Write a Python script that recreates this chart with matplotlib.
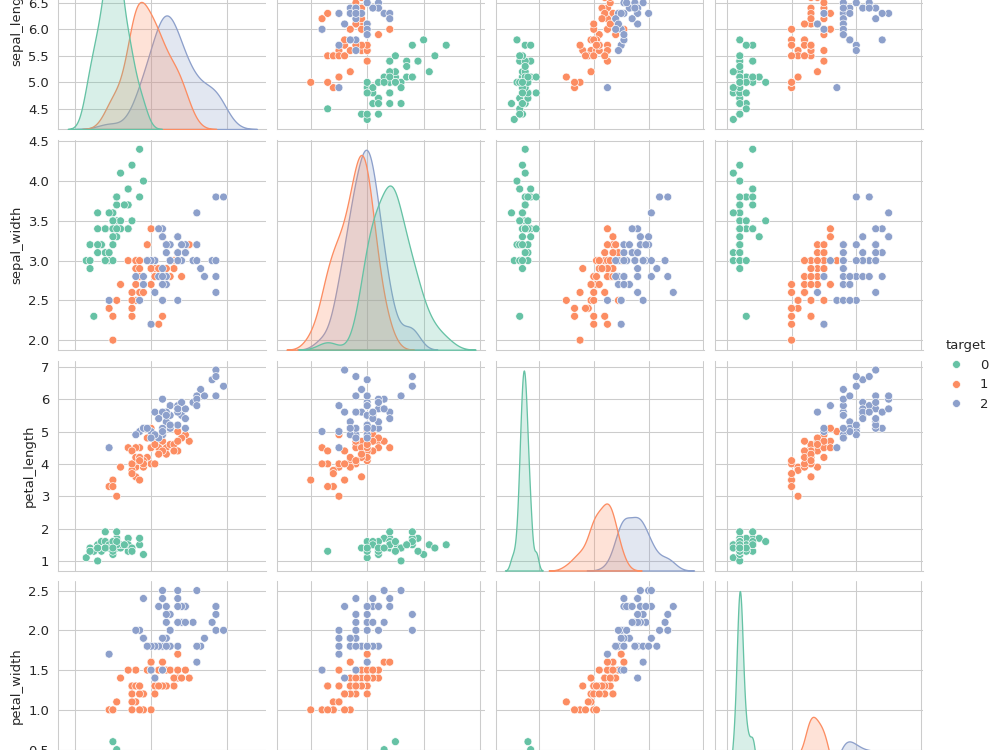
import matplotlib
matplotlib.use("Agg")
import matplotlib.pyplot as plt
from matplotlib.transforms import Bbox
import pandas as pd
import seaborn as sns

# iris measurements (sklearn ordering), target 0/1/2
sepal_length = [
    5.1, 4.9, 4.7, 4.6, 5.0, 5.4, 4.6, 5.0, 4.4, 4.9, 5.4, 4.8, 4.8, 4.3, 5.8, 5.7, 5.4, 5.1, 5.7, 5.1,
    5.4, 5.1, 4.6, 5.1, 4.8, 5.0, 5.0, 5.2, 5.2, 4.7, 4.8, 5.4, 5.2, 5.5, 4.9, 5.0, 5.5, 4.9, 4.4, 5.1,
    5.0, 4.5, 4.4, 5.0, 5.1, 4.8, 5.1, 4.6, 5.3, 5.0,
    7.0, 6.4, 6.9, 5.5, 6.5, 5.7, 6.3, 4.9, 6.6, 5.2, 5.0, 5.9, 6.0, 6.1, 5.6, 6.7, 5.6, 5.8, 6.2, 5.6,
    5.9, 6.1, 6.3, 6.1, 6.4, 6.6, 6.8, 6.7, 6.0, 5.7, 5.5, 5.5, 5.8, 6.0, 5.4, 6.0, 6.7, 6.3, 5.6, 5.5,
    5.5, 6.1, 5.8, 5.0, 5.6, 5.7, 5.7, 6.2, 5.1, 5.7,
    6.3, 5.8, 7.1, 6.3, 6.5, 7.6, 4.9, 7.3, 6.7, 7.2, 6.5, 6.4, 6.8, 5.7, 5.8, 6.4, 6.5, 7.7, 7.7, 6.0,
    6.9, 5.6, 7.7, 6.3, 6.7, 7.2, 6.2, 6.1, 6.4, 7.2, 7.4, 7.9, 6.4, 6.3, 6.1, 7.7, 6.3, 6.4, 6.0, 6.9,
    6.7, 6.9, 5.8, 6.8, 6.7, 6.7, 6.3, 6.5, 6.2, 5.9,
]
sepal_width = [
    3.5, 3.0, 3.2, 3.1, 3.6, 3.9, 3.4, 3.4, 2.9, 3.1, 3.7, 3.4, 3.0, 3.0, 4.0, 4.4, 3.9, 3.5, 3.8, 3.8,
    3.4, 3.7, 3.6, 3.3, 3.4, 3.0, 3.4, 3.5, 3.4, 3.2, 3.1, 3.4, 4.1, 4.2, 3.1, 3.2, 3.5, 3.6, 3.0, 3.4,
    3.5, 2.3, 3.2, 3.5, 3.8, 3.0, 3.8, 3.2, 3.7, 3.3,
    3.2, 3.2, 3.1, 2.3, 2.8, 2.8, 3.3, 2.4, 2.9, 2.7, 2.0, 3.0, 2.2, 2.9, 2.9, 3.1, 3.0, 2.7, 2.2, 2.5,
    3.2, 2.8, 2.5, 2.8, 2.9, 3.0, 2.8, 3.0, 2.9, 2.6, 2.4, 2.4, 2.7, 2.7, 3.0, 3.4, 3.1, 2.3, 3.0, 2.5,
    2.6, 3.0, 2.6, 2.3, 2.7, 3.0, 2.9, 2.9, 2.5, 2.8,
    3.3, 2.7, 3.0, 2.9, 3.0, 3.0, 2.5, 2.9, 2.5, 3.6, 3.2, 2.7, 3.0, 2.5, 2.8, 3.2, 3.0, 3.8, 2.6, 2.2,
    3.2, 2.8, 2.8, 2.7, 3.3, 3.2, 2.8, 3.0, 2.8, 3.0, 2.8, 3.8, 2.8, 2.8, 2.6, 3.0, 3.4, 3.1, 3.0, 3.1,
    3.1, 3.1, 2.7, 3.2, 3.3, 3.0, 2.5, 3.0, 3.4, 3.0,
]
petal_length = [
    1.4, 1.4, 1.3, 1.5, 1.4, 1.7, 1.4, 1.5, 1.4, 1.5, 1.5, 1.6, 1.4, 1.1, 1.2, 1.5, 1.3, 1.4, 1.7, 1.5,
    1.7, 1.5, 1.0, 1.7, 1.9, 1.6, 1.6, 1.5, 1.4, 1.6, 1.6, 1.5, 1.5, 1.4, 1.5, 1.2, 1.3, 1.4, 1.3, 1.5,
    1.3, 1.3, 1.3, 1.6, 1.9, 1.4, 1.6, 1.4, 1.5, 1.4,
    4.7, 4.5, 4.9, 4.0, 4.6, 4.5, 4.7, 3.3, 4.6, 3.9, 3.5, 4.2, 4.0, 4.7, 3.6, 4.4, 4.5, 4.1, 4.5, 3.9,
    4.8, 4.0, 4.9, 4.7, 4.3, 4.4, 4.8, 5.0, 4.5, 3.5, 3.8, 3.7, 3.9, 5.1, 4.5, 4.5, 4.7, 4.4, 4.1, 4.0,
    4.4, 4.6, 4.0, 3.3, 4.2, 4.2, 4.2, 4.3, 3.0, 4.1,
    6.0, 5.1, 5.9, 5.6, 5.8, 6.6, 4.5, 6.3, 5.8, 6.1, 5.1, 5.3, 5.5, 5.0, 5.1, 5.3, 5.5, 6.7, 6.9, 5.0,
    5.7, 4.9, 6.7, 4.9, 5.7, 6.0, 4.8, 4.9, 5.6, 5.8, 6.1, 6.4, 5.6, 5.1, 5.6, 6.1, 5.6, 5.5, 4.8, 5.4,
    5.6, 5.1, 5.1, 5.9, 5.7, 5.2, 5.0, 5.2, 5.4, 5.1,
]
petal_width = [
    0.2, 0.2, 0.2, 0.2, 0.2, 0.4, 0.3, 0.2, 0.2, 0.1, 0.2, 0.2, 0.1, 0.1, 0.2, 0.4, 0.4, 0.3, 0.3, 0.3,
    0.2, 0.4, 0.2, 0.5, 0.2, 0.2, 0.4, 0.2, 0.2, 0.2, 0.2, 0.4, 0.1, 0.2, 0.2, 0.2, 0.2, 0.1, 0.2, 0.2,
    0.3, 0.3, 0.2, 0.6, 0.4, 0.3, 0.2, 0.2, 0.2, 0.2,
    1.4, 1.5, 1.5, 1.3, 1.5, 1.3, 1.6, 1.0, 1.3, 1.4, 1.0, 1.5, 1.0, 1.4, 1.3, 1.4, 1.5, 1.0, 1.5, 1.1,
    1.8, 1.3, 1.5, 1.2, 1.3, 1.4, 1.4, 1.7, 1.5, 1.0, 1.1, 1.0, 1.2, 1.6, 1.5, 1.6, 1.5, 1.3, 1.3, 1.3,
    1.2, 1.4, 1.2, 1.0, 1.3, 1.2, 1.3, 1.3, 1.1, 1.3,
    2.5, 1.9, 2.1, 1.8, 2.2, 2.1, 1.7, 1.8, 1.8, 2.5, 2.0, 1.9, 2.1, 2.0, 2.4, 2.3, 1.8, 2.2, 2.3, 1.5,
    2.3, 2.0, 2.0, 1.8, 2.1, 1.8, 1.8, 1.8, 2.1, 1.6, 1.9, 2.0, 2.2, 1.5, 1.4, 2.3, 2.4, 1.8, 1.8, 2.1,
    2.4, 2.3, 1.9, 2.3, 2.5, 2.3, 1.9, 2.0, 2.3, 1.8,
]
target = [0] * 50 + [1] * 50 + [2] * 50

df = pd.DataFrame({
    "sepal_length": sepal_length,
    "sepal_width": sepal_width,
    "petal_length": petal_length,
    "petal_width": petal_width,
    "target": target,
})

sns.set_style("whitegrid")
g = sns.pairplot(df, hue="target", palette="Set2")
fig = g.figure

# the reference is a 1000x750 px window cut out of the full grid
w_in, h_in = fig.get_size_inches()
dpi = 1000.0 / w_in
fig.set_dpi(dpi)
fig.canvas.draw()
W_px, H_px = w_in * dpi, h_in * dpi

left_px = g.axes[1, 0].get_window_extent().x0 - 58.3
top_px = g.axes[0, 1].transData.transform((0, 6.5))[1] + 3.0

# place the grid cells where they sit in the window (px, from window top-left)
col_left = [58.3, 277.0, 495.5, 714.5]
row_top = [-81.0, 139.7, 360.5, 581.0]
cell_w, cell_h = 208.0, 210.0
for i, rt in enumerate(row_top):
    for j, cl in enumerate(col_left):
        x0 = (left_px + cl) / W_px
        y0 = (top_px - rt - cell_h) / H_px
        g.axes[i, j].set_position([x0, y0, cell_w / W_px, cell_h / H_px])

crop = Bbox([[left_px / dpi, (top_px - 750.0) / dpi],
             [(left_px + 1000.0) / dpi, top_px / dpi]])
fig.savefig("out.png", dpi=dpi, bbox_inches=crop)
